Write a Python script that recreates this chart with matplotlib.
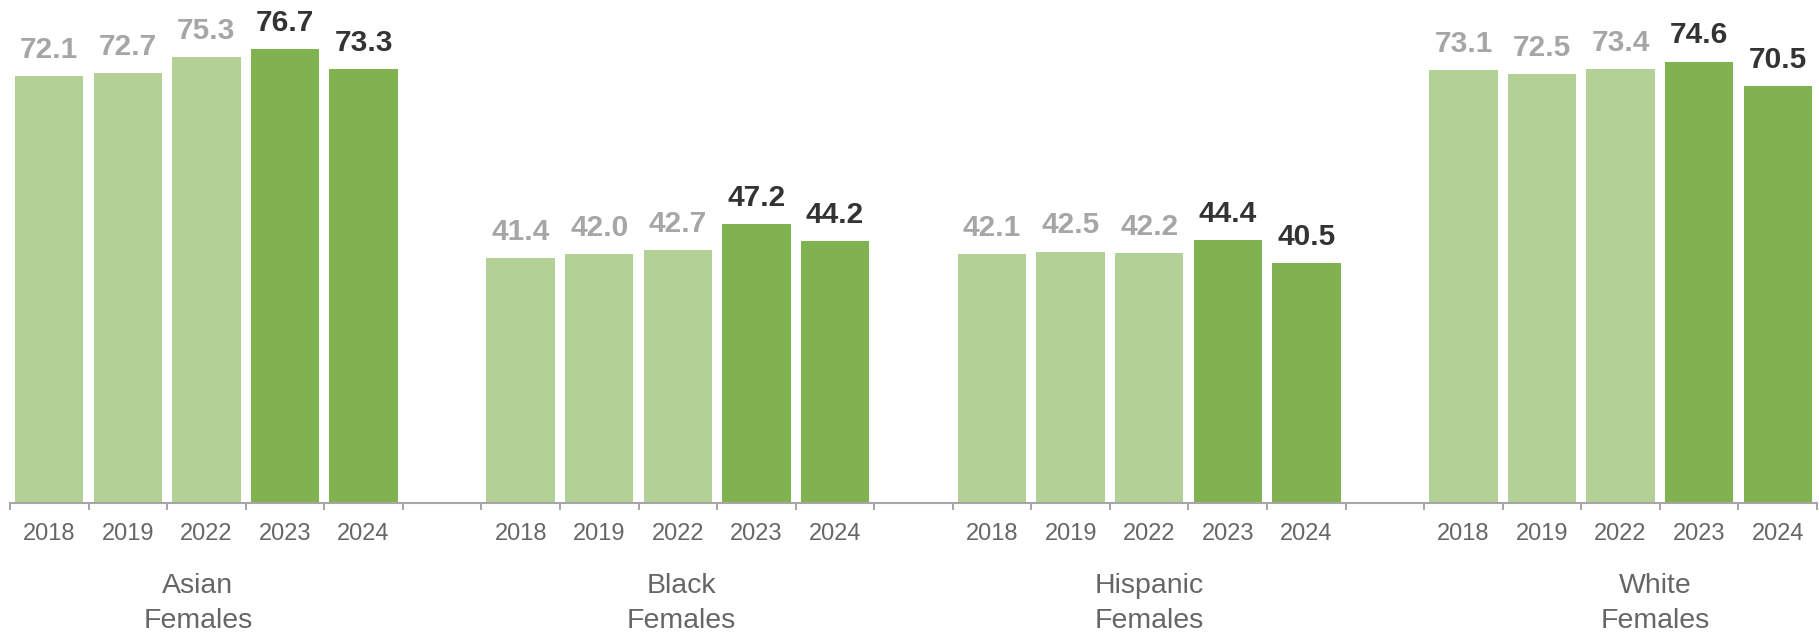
import matplotlib
matplotlib.use("Agg")
import matplotlib.pyplot as plt
import numpy as np

groups = ["Asian", "Black", "Hispanic", "White"]
group_suffix = "Females"
years = ["2018", "2019", "2022", "2023", "2024"]
asian = [72.1, 72.7, 75.3, 76.7, 73.3]
black = [41.4, 42.0, 42.7, 47.2, 44.2]
hispanic = [42.1, 42.5, 42.2, 44.4, 40.5]
white = [73.1, 72.5, 73.4, 74.6, 70.5]
series = [asian, black, hispanic, white]

LIGHT, DARK = "#B3D197", "#80B24F"
LBL_LIGHT, LBL_DARK = "#A6A6A6", "#333333"
AXIS_GREY = "#A6A6A6"
TEXT_GREY = "#666666"

plt.rcParams["font.family"] = ["Liberation Sans", "DejaVu Sans"]

fig = plt.figure(figsize=(18.19, 6.32), dpi=100)
ax = fig.add_axes([10 / 1819, 129 / 632, 1807 / 1819, 503 / 632])
xt = ax.get_xaxis_transform()

slot = 6  # 5 bars + one empty slot between groups
group_label_x = [1.89, 8.05, 14.0, 20.44]
for g, vals in enumerate(series):
    x = g * slot + np.arange(len(years))
    colors = [LIGHT, LIGHT, LIGHT, DARK, DARK]
    ax.bar(x, vals, width=0.87, color=colors, edgecolor="none")
    for xi, v, yr in zip(x, vals, years):
        lc = LBL_DARK if yr in ("2023", "2024") else LBL_LIGHT
        ax.annotate(f"{v:.1f}", (xi, v), xytext=(0, 13), textcoords="offset points",
                    ha="center", va="baseline", fontsize=21.5, fontweight="bold", color=lc)
        ax.text(xi, -37 / 503, yr, transform=xt,
                ha="center", va="baseline", fontsize=17, color=TEXT_GREY)
    ax.text(group_label_x[g], -90 / 503, groups[g], transform=xt,
            ha="center", va="baseline", fontsize=20.5, color=TEXT_GREY)
    ax.text(group_label_x[g], -125 / 503, group_suffix, transform=xt,
            ha="center", va="baseline", fontsize=20.5, color=TEXT_GREY)

n_slots = slot * len(series) - 1
ax.set_xlim(-0.5, n_slots - 0.5)
ax.set_ylim(0, 85)
ax.set_xticks(np.arange(-0.5, n_slots, 1.0))
ax.set_xticklabels([])
ax.tick_params(axis="x", length=5, width=1.4, color=AXIS_GREY, direction="out")
ax.set_yticks([])
for s in ["top", "right", "left"]:
    ax.spines[s].set_visible(False)
ax.spines["bottom"].set_color(AXIS_GREY)
ax.spines["bottom"].set_linewidth(1.5)

fig.savefig("out.png", dpi=100)
